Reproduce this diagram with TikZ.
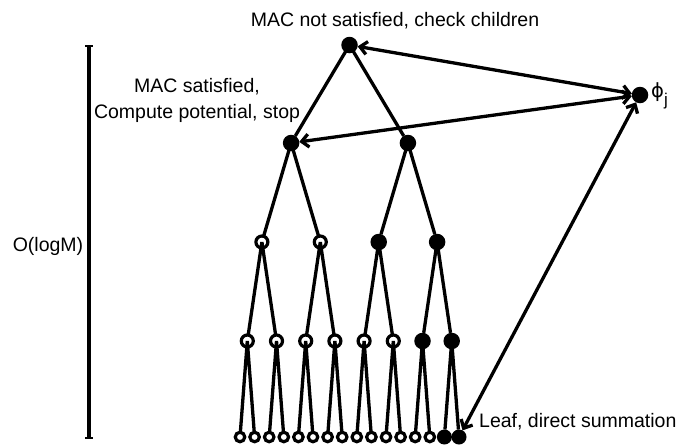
\documentclass[tikz,border=0pt]{standalone}
\usepackage{fontspec}
\setmainfont{Liberation Sans}
\newfontfamily\djv{DejaVu Sans}
\usetikzlibrary{arrows.meta}
\begin{document}
\begin{tikzpicture}[x=1pt,y=-1pt,
  every node/.style={font=\fontsize{19.5}{26}\selectfont},
  edge/.style={line width=3.3pt},
  dbl/.style={line width=3.3pt,{Straight Barb[length=7pt,width=13pt]}-{Straight Barb[length=7pt,width=13pt]}},
  openleaf/.style={circle,draw,line width=3.2pt,inner sep=0pt,outer sep=0pt,minimum size=9.5pt},
  opennode/.style={circle,draw,line width=3.2pt,inner sep=0pt,outer sep=0pt,minimum size=12pt},
  fullnode/.style={circle,fill,draw=none,inner sep=0pt,outer sep=0pt,minimum size=16.5pt},
  fullleaf/.style={circle,fill,draw=none,inner sep=0pt,outer sep=0pt,minimum size=15pt},
  lbl/.style={inner sep=0pt}]
\useasboundingbox (0,0) rectangle (684,445);
% leaves
\foreach \i in {0,...,13}{
  \node[openleaf] (l\i) at ({240+14.6*\i},437) {};
}
\node[fullleaf] (l14) at ({240+14.6*14},437) {};
\node[fullleaf] (l15) at ({240+14.6*15},437) {};
% level 3
\foreach \j in {0,...,5}{
  \node[opennode] (c\j) at ({240+14.6*(2*\j+0.5)},341) {};
}
\node[fullnode] (c6) at ({240+14.6*12.5},341) {};
\node[fullnode] (c7) at ({240+14.6*14.5},341) {};
% level 2
\node[opennode] (b0) at ({240+14.6*1.5},242) {};
\node[opennode] (b1) at ({240+14.6*5.5},242) {};
\node[fullnode] (b2) at ({240+14.6*9.5},242) {};
\node[fullnode] (b3) at ({240+14.6*13.5},242) {};
% level 1
\node[fullnode] (a0) at ({240+14.6*3.5},143) {};
\node[fullnode] (a1) at ({240+14.6*11.5},143) {};
% root
\node[fullnode] (r) at ({240+14.6*7.5},45) {};
% phi
\node[fullnode] (phi) at (640,95) {};
% edges
\draw[edge] (r.center) -- (a0) (r.center) -- (a1);
\draw[edge] (a0.center) -- (b0) (a0.center) -- (b1) (a1.center) -- (b2) (a1.center) -- (b3);
\foreach \k in {0,...,3}{
  \pgfmathtruncatemacro{\ca}{2*\k}
  \pgfmathtruncatemacro{\cb}{2*\k+1}
  \draw[edge] (b\k.center) -- (c\ca) (b\k.center) -- (c\cb);
}
\foreach \j in {0,...,7}{
  \pgfmathtruncatemacro{\la}{2*\j}
  \pgfmathtruncatemacro{\lb}{2*\j+1}
  \draw[edge] (c\j.center) -- (l\la) (c\j.center) -- (l\lb);
}
% interaction arrows
\draw[dbl] (phi) -- (r);
\draw[dbl] (phi) -- (a0);
\draw[dbl] (l15) -- (phi);
% O(logM) bar
\coordinate (bt) at (89,46);
\coordinate (bb) at (89,438);
\draw[line width=3.3pt] (bt) -- (bb);
\draw[line width=2.2pt] ([xshift=-4pt]bt) -- ([xshift=4pt]bt);
\draw[line width=2.2pt] ([xshift=-4pt]bb) -- ([xshift=4pt]bb);
% labels
\node[lbl] (t1) at (395,21) {MAC not satisfied, check children};
\node[lbl,align=center] (t2) at (197,100) {MAC satisfied,\\Compute potential, stop};
\node[lbl] (t3) at (48,246) {O(logM)};
\node[lbl,anchor=west] (t4) at (651,96) {{\djv ϕ}\raisebox{-8pt}{\fontsize{17}{20}\selectfont j}};
\node[lbl,anchor=west] (t5) at (479,422) {Leaf, direct summation};
\end{tikzpicture}
\end{document}
